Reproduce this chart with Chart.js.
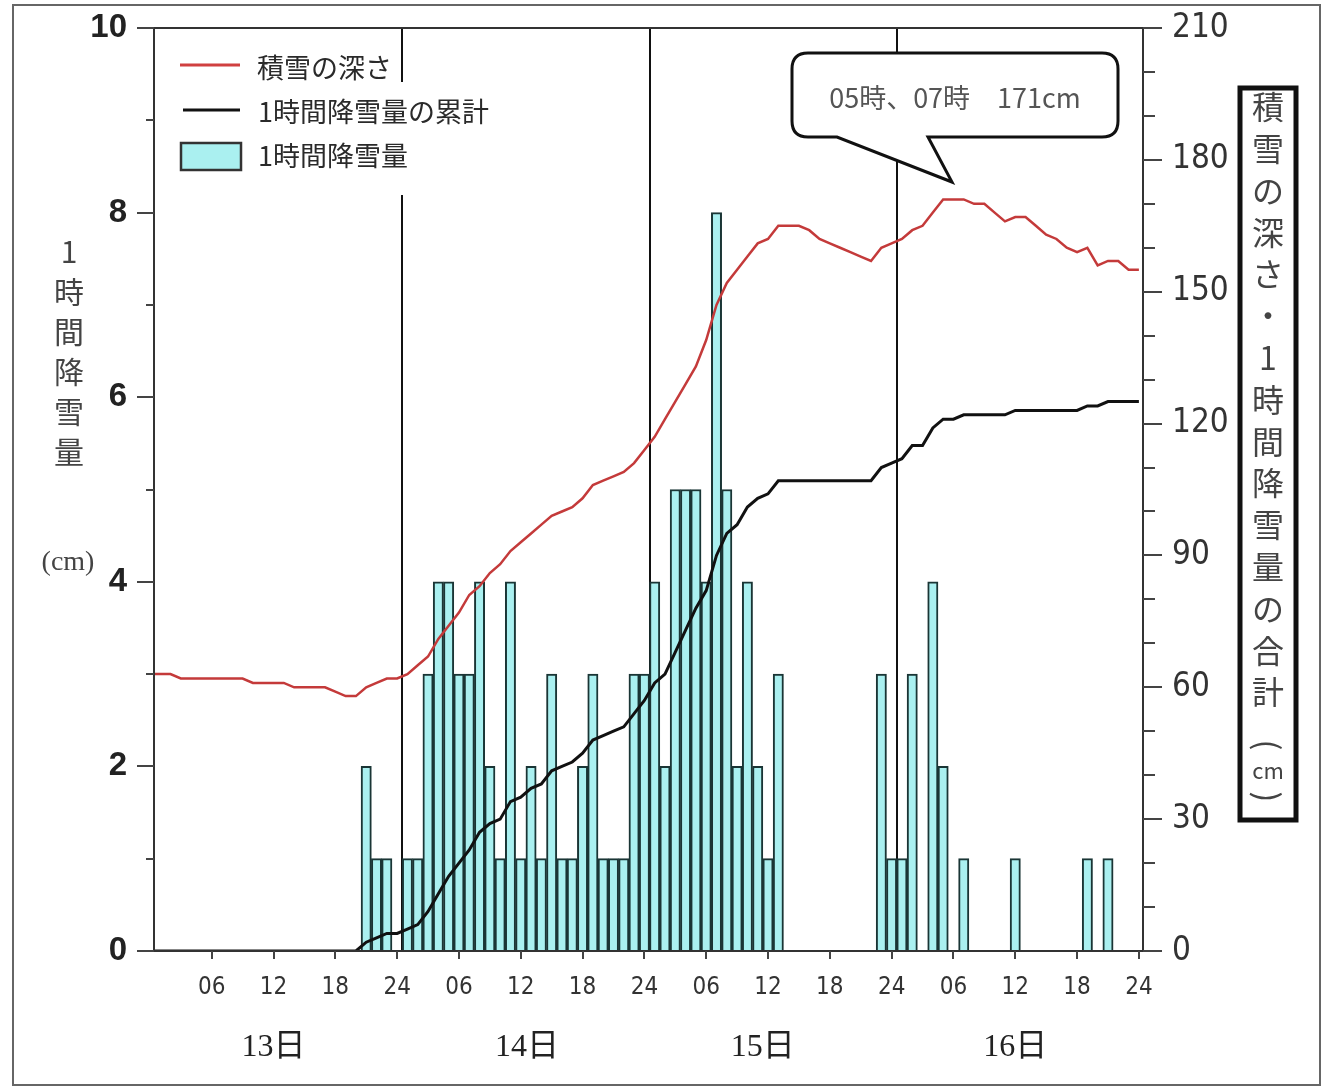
<!DOCTYPE html>
<html lang="ja">
<head>
<meta charset="utf-8">
<title>積雪の深さ・1時間降雪量</title>
<script src="https://cdn.jsdelivr.net/npm/chart.js@4.4.1/dist/chart.umd.min.js"></script>
<style>
  html, body { margin: 0; padding: 0; background: #fff; }
  #wrap { width: 1325px; height: 1090px; }
</style>
</head>
<body>
<div id="wrap"><canvas id="snow-chart" width="1325" height="1090"></canvas></div>
<script>
// 時刻（13日00時 = 0 から 16日24時 = 96 まで）
const hours = [
  0,
  1, 2, 3, 4, 5, 6, 7, 8, 9, 10, 11, 12, 13, 14, 15, 16, 17, 18, 19, 20, 21, 22, 23, 24,
  25, 26, 27, 28, 29, 30, 31, 32, 33, 34, 35, 36, 37, 38, 39, 40, 41, 42, 43, 44, 45, 46, 47, 48,
  49, 50, 51, 52, 53, 54, 55, 56, 57, 58, 59, 60, 61, 62, 63, 64, 65, 66, 67, 68, 69, 70, 71, 72,
  73, 74, 75, 76, 77, 78, 79, 80, 81, 82, 83, 84, 85, 86, 87, 88, 89, 90, 91, 92, 93, 94, 95, 96,
];

// 1時間降雪量 (cm)
const hourlySnow = [
  0,
  0, 0, 0, 0, 0, 0, 0, 0, 0, 0, 0, 0, 0, 0, 0, 0, 0, 0, 0, 0, 2, 1, 1, 0,
  1, 1, 3, 4, 4, 3, 3, 4, 2, 1, 4, 1, 2, 1, 3, 1, 1, 2, 3, 1, 1, 1, 3, 3,
  4, 2, 5, 5, 5, 4, 8, 5, 2, 4, 2, 1, 3, 0, 0, 0, 0, 0, 0, 0, 0, 0, 3, 1,
  1, 3, 0, 4, 2, 0, 1, 0, 0, 0, 0, 1, 0, 0, 0, 0, 0, 0, 1, 0, 1, 0, 0, 0,
];

// 1時間降雪量の累計 (cm)
const cumulativeSnow = [
  0,
  0, 0, 0, 0, 0, 0, 0, 0, 0, 0, 0, 0, 0, 0, 0, 0, 0, 0, 0, 0, 2, 3, 4, 4,
  5, 6, 9, 13, 17, 20, 23, 27, 29, 30, 34, 35, 37, 38, 41, 42, 43, 45, 48, 49, 50, 51, 54, 57,
  61, 63, 68, 73, 78, 82, 90, 95, 97, 101, 103, 104, 107, 107, 107, 107, 107, 107, 107, 107, 107, 107, 110, 111,
  112, 115, 115, 119, 121, 121, 122, 122, 122, 122, 122, 123, 123, 123, 123, 123, 123, 123, 124, 124, 125, 125, 125, 125,
];

// 積雪の深さ (cm)
const snowDepth = [
  63,
  63, 63, 62, 62, 62, 62, 62, 62, 62, 61, 61, 61, 61, 60, 60, 60, 60, 59, 58, 58, 60, 61, 62, 62,
  63, 65, 67, 71, 74, 77, 81, 83, 86, 88, 91, 93, 95, 97, 99, 100, 101, 103, 106, 107, 108, 109, 111, 114,
  117, 121, 125, 129, 133, 139, 147, 152, 155, 158, 161, 162, 165, 165, 165, 164, 162, 161, 160, 159, 158, 157, 160, 161,
  162, 164, 165, 168, 171, 171, 171, 170, 170, 168, 166, 167, 167, 165, 163, 162, 160, 159, 160, 156, 157, 157, 155, 155,
];

const tickHours = [6, 12, 18, 24, 30, 36, 42, 48, 54, 60, 66, 72, 78, 84, 90, 96];
const tickLabels = [
  "06", "12", "18", "24", "06", "12", "18", "24",
  "06", "12", "18", "24", "06", "12", "18", "24",
];
const dayLabels = ["13日", "14日", "15日", "16日"];
const dayBoundaries = [24.5, 48.5, 72.5];
const peakNote = "05時、07時　171cm";

const dayLabelAt = [12, 36.6, 59.5, 84];
const CJK = '"Noto Sans CJK JP", "Noto Sans", sans-serif';
const COND = '"DejaVu Sans", sans-serif';

const decorations = {
  id: "decorations",
  beforeDraw(chart) {
    const ctx = chart.ctx;
    ctx.save();
    ctx.fillStyle = "#fff";
    ctx.fillRect(0, 0, chart.width, chart.height);
    ctx.restore();
  },
  beforeDatasetsDraw(chart) {
    const { ctx, chartArea, scales } = chart;
    ctx.save();
    ctx.strokeStyle = "#111";
    ctx.lineWidth = 2;
    dayBoundaries.forEach((h) => {
      const x = Math.round(scales.x.getPixelForValue(h));
      ctx.beginPath();
      ctx.moveTo(x, chartArea.top);
      ctx.lineTo(x, chartArea.bottom);
      ctx.stroke();
    });
    ctx.restore();
  },
  afterDatasetsDraw(chart) {
    const { ctx, chartArea, scales } = chart;
    const { left, right, top, bottom } = chartArea;
    ctx.save();

    // 枠
    ctx.strokeStyle = "#333";
    ctx.lineWidth = 2;
    ctx.strokeRect(left, top, right - left, bottom - top);

    // 目盛り
    ctx.strokeStyle = "#444";
    ctx.beginPath();
    for (let v = 0; v <= 10; v++) {
      const y = Math.round(scales.y.getPixelForValue(v));
      const len = v % 2 === 0 ? 17 : 8;
      ctx.moveTo(left - len, y);
      ctx.lineTo(left, y);
    }
    for (let v = 0; v <= 210; v += 10) {
      const y = Math.round(scales.y2.getPixelForValue(v));
      const len = v % 30 === 0 ? 19 : 12;
      ctx.moveTo(right, y);
      ctx.lineTo(right + len, y);
    }
    tickHours.forEach((h) => {
      const x = Math.round(scales.x.getPixelForValue(h));
      ctx.moveTo(x, bottom);
      ctx.lineTo(x, bottom + 8);
    });
    ctx.stroke();

    // 凡例
    const ds = chart.data.datasets;
    ctx.fillStyle = "#fff";
    ctx.fillRect(172, 82, 330, 113);
    ctx.lineWidth = 3;
    ctx.strokeStyle = "#d04040";
    ctx.beginPath();
    ctx.moveTo(180, 65);
    ctx.lineTo(240, 65);
    ctx.stroke();
    ctx.strokeStyle = "#111";
    ctx.beginPath();
    ctx.moveTo(183, 110);
    ctx.lineTo(240, 110);
    ctx.stroke();
    ctx.fillStyle = ds[2].backgroundColor;
    ctx.fillRect(181, 143, 60, 27);
    ctx.lineWidth = 2.5;
    ctx.strokeStyle = "#333";
    ctx.strokeRect(181, 143, 60, 27);
    ctx.fillStyle = "#2a2a2a";
    ctx.font = "27px " + CJK;
    ctx.textAlign = "left";
    ctx.textBaseline = "middle";
    ctx.fillText(ds[0].label, 257, 68);
    ctx.fillText(ds[1].label, 258, 112);
    ctx.fillText(ds[2].label, 258, 156);

    // 吹き出し
    const bx0 = 792, bx1 = 1118, by0 = 53, by1 = 137, r = 16;
    ctx.beginPath();
    ctx.moveTo(bx0 + r, by0);
    ctx.lineTo(bx1 - r, by0);
    ctx.quadraticCurveTo(bx1, by0, bx1, by0 + r);
    ctx.lineTo(bx1, by1 - r);
    ctx.quadraticCurveTo(bx1, by1, bx1 - r, by1);
    ctx.lineTo(928, by1);
    ctx.lineTo(952, 182);
    ctx.lineTo(837, by1);
    ctx.lineTo(bx0 + r, by1);
    ctx.quadraticCurveTo(bx0, by1, bx0, by1 - r);
    ctx.lineTo(bx0, by0 + r);
    ctx.quadraticCurveTo(bx0, by0, bx0 + r, by0);
    ctx.closePath();
    ctx.fillStyle = "#fff";
    ctx.fill();
    ctx.lineWidth = 3;
    ctx.strokeStyle = "#111";
    ctx.stroke();
    ctx.fillStyle = "#555";
    ctx.font = "27px " + CJK;
    ctx.textAlign = "center";
    ctx.fillText(peakNote, 955, 98);

    ctx.restore();
  },
  afterDraw(chart) {
    const { ctx, scales } = chart;
    ctx.save();
    ctx.textAlign = "center";
    ctx.textBaseline = "middle";

    // 左軸タイトル
    ctx.fillStyle = "#444";
    ctx.font = "30px " + CJK;
    ["1", "時", "間", "降", "雪", "量"].forEach((c, i) => {
      ctx.fillText(c, 69, 252 + i * 40);
    });
    ctx.font = '28px "Liberation Serif", serif';
    ctx.fillText("(cm)", 68, 563);

    // 右軸タイトル
    ctx.lineWidth = 5;
    ctx.strokeStyle = "#111";
    ctx.strokeRect(1240, 88, 56, 732);
    ctx.font = "32px " + CJK;
    const rightTitle = ["積", "雪", "の", "深", "さ", "・", "1", "時", "間", "降", "雪", "量", "の", "合", "計"];
    rightTitle.forEach((c, i) => {
      ctx.fillText(c, 1268, 107 + i * 41.8);
    });
    [["(", 745], [")", 797]].forEach(([p, y]) => {
      ctx.save();
      ctx.translate(1268, y);
      ctx.rotate(Math.PI / 2);
      ctx.fillText(p, 0, 0);
      ctx.restore();
    });
    ctx.font = "22px " + CJK;
    ctx.fillText("cm", 1268, 771);

    // 日付
    ctx.fillStyle = "#222";
    ctx.font = '32px "Liberation Serif", "Noto Sans CJK JP", serif';
    dayLabels.forEach((d, i) => {
      ctx.fillText(d, scales.x.getPixelForValue(dayLabelAt[i]), 1048);
    });

    // 外枠
    ctx.lineWidth = 2;
    ctx.strokeStyle = "#666";
    ctx.strokeRect(13, 5, 1307, 1080);
    ctx.restore();
  },
};

function noPad(scale) {
  scale.paddingTop = 0;
  scale.paddingBottom = 0;
  scale.paddingLeft = 0;
  scale.paddingRight = 0;
}

new Chart(document.getElementById("snow-chart"), {
  data: {
    labels: hours,
    datasets: [
      {
        type: "line",
        label: "積雪の深さ",
        data: snowDepth,
        yAxisID: "y2",
        borderColor: "#c43a3a",
        borderWidth: 2.5,
        pointRadius: 0,
        tension: 0,
        order: 1,
      },
      {
        type: "line",
        label: "1時間降雪量の累計",
        data: cumulativeSnow,
        yAxisID: "y2",
        borderColor: "#111",
        borderWidth: 3,
        pointRadius: 0,
        tension: 0,
        order: 2,
      },
      {
        type: "bar",
        label: "1時間降雪量",
        data: hourlySnow.map((v) => (v > 0 ? v : null)),
        yAxisID: "y",
        backgroundColor: "#aaf0f0",
        borderColor: "#1a3535",
        borderWidth: 2,
        barPercentage: 1,
        categoryPercentage: 1,
        order: 3,
      },
    ],
  },
  options: {
    responsive: false,
    animation: false,
    devicePixelRatio: 1,
    layout: { padding: { top: 28, left: 0, right: 0, bottom: 0 } },
    plugins: {
      legend: { display: false },
      tooltip: { enabled: false },
    },
    scales: {
      x: {
        type: "linear",
        offset: false,
        min: 0.4,
        max: 96.4,
        afterBuildTicks: (scale) => {
          scale.ticks = tickHours.map((v) => ({ value: v }));
        },
        afterFit: (scale) => {
          scale.height = 139;
          noPad(scale);
        },
        grid: { display: false, drawTicks: false },
        border: { display: false },
        ticks: {
          autoSkip: false,
          maxRotation: 0,
          padding: 22,
          color: "#333",
          font: { family: COND, size: 24, weight: "condensed" },
          callback: (v) => {
            const i = tickHours.indexOf(v);
            return i >= 0 ? tickLabels[i] : "";
          },
        },
      },
      y: {
        position: "left",
        min: 0,
        max: 10,
        afterFit: (scale) => {
          scale.width = 154;
          noPad(scale);
        },
        grid: { display: false, drawTicks: false },
        border: { display: false },
        ticks: {
          stepSize: 2,
          padding: 27,
          color: "#222",
          font: { family: '"Liberation Sans", Arial, sans-serif', size: 33, weight: "bold" },
        },
      },
      y2: {
        position: "right",
        min: 0,
        max: 210,
        afterFit: (scale) => {
          scale.width = 182;
          noPad(scale);
        },
        grid: { display: false, drawTicks: false },
        border: { display: false },
        ticks: {
          stepSize: 30,
          padding: 29,
          color: "#333",
          font: { family: COND, size: 33, weight: "condensed" },
        },
      },
    },
  },
  plugins: [decorations],
});
</script>
</body>
</html>
